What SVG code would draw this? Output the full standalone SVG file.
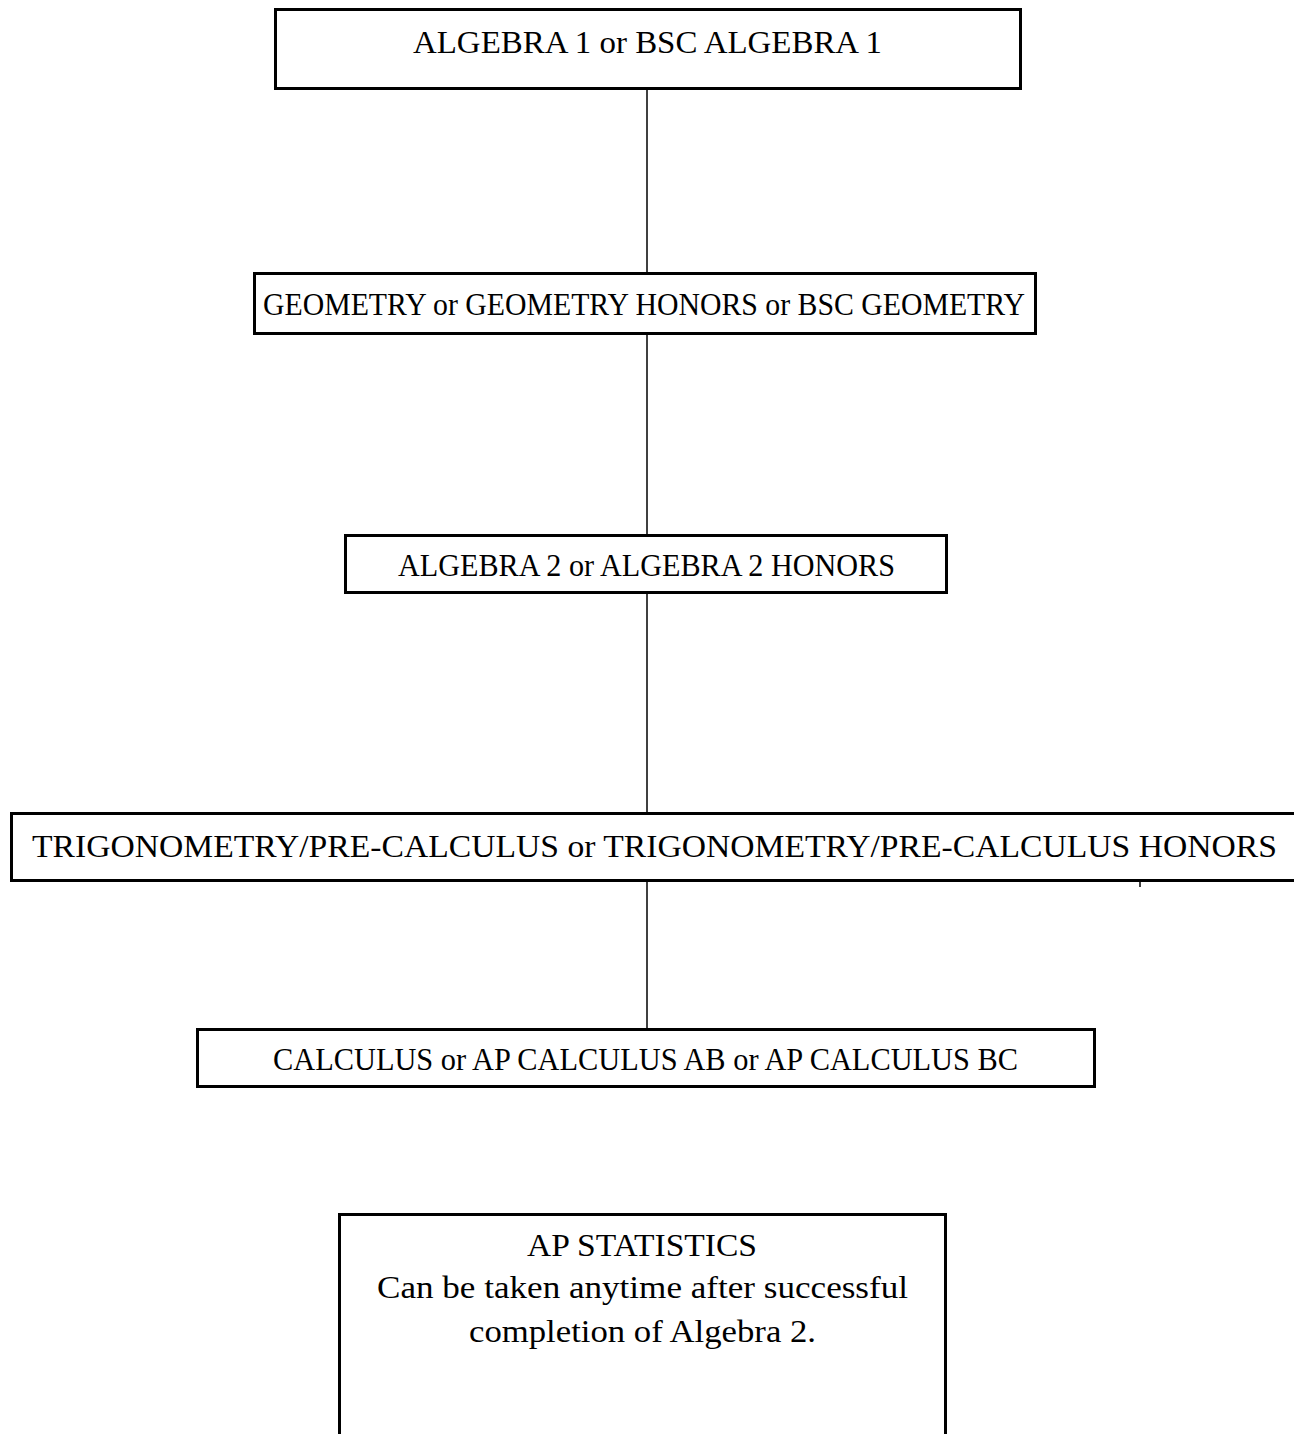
<svg xmlns="http://www.w3.org/2000/svg" width="1294" height="1434" viewBox="0 0 1294 1434">
<style>
.box{fill:#fff;stroke:#000;stroke-width:3}
.conn{stroke:#000;stroke-width:1.5;fill:none}
text{font-family:"Liberation Serif","Times New Roman",serif;fill:#000;text-anchor:middle;font-size:32px}
</style>
<rect width="1294" height="1434" fill="#fff"/>
<g id="connectors">
<line class="conn" x1="647" y1="89" x2="647" y2="272"/>
<line class="conn" x1="647" y1="334" x2="647" y2="534"/>
<line class="conn" x1="647" y1="593" x2="647" y2="812"/>
<line class="conn" x1="647" y1="881" x2="647" y2="1029"/>
<line class="conn" x1="1140" y1="881" x2="1140" y2="887"/>
</g>
<g id="n1">
<rect class="box" x="275.5" y="9.5" width="745" height="79"/>
<text x="647.5" y="53" textLength="469" lengthAdjust="spacingAndGlyphs">ALGEBRA 1 or BSC ALGEBRA 1</text>
</g>
<g id="n2">
<rect class="box" x="254.5" y="273.5" width="781" height="60"/>
<text x="644" y="315" textLength="762" lengthAdjust="spacingAndGlyphs">GEOMETRY or GEOMETRY HONORS or BSC GEOMETRY</text>
</g>
<g id="n3">
<rect class="box" x="345.5" y="535.5" width="601" height="57"/>
<text x="646.5" y="576" textLength="497" lengthAdjust="spacingAndGlyphs">ALGEBRA 2 or ALGEBRA 2 HONORS</text>
</g>
<g id="n4">
<rect class="box" x="11.5" y="813.5" width="1290" height="67"/>
<text x="654.5" y="857" textLength="1245" lengthAdjust="spacingAndGlyphs">TRIGONOMETRY/PRE-CALCULUS or TRIGONOMETRY/PRE-CALCULUS  HONORS</text>
</g>
<g id="n5">
<rect class="box" x="197.5" y="1029.5" width="897" height="57"/>
<text x="645.5" y="1070" textLength="745" lengthAdjust="spacingAndGlyphs">CALCULUS or AP CALCULUS AB or AP CALCULUS BC</text>
</g>
<g id="n6">
<rect class="box" x="339.5" y="1214.5" width="606" height="240"/>
<text x="642" y="1256" textLength="230" lengthAdjust="spacingAndGlyphs">AP STATISTICS</text>
<text x="642.5" y="1298" textLength="531" lengthAdjust="spacingAndGlyphs">Can be taken anytime after successful</text>
<text x="642.5" y="1342" textLength="347" lengthAdjust="spacingAndGlyphs">completion of Algebra 2.</text>
</g>
</svg>
